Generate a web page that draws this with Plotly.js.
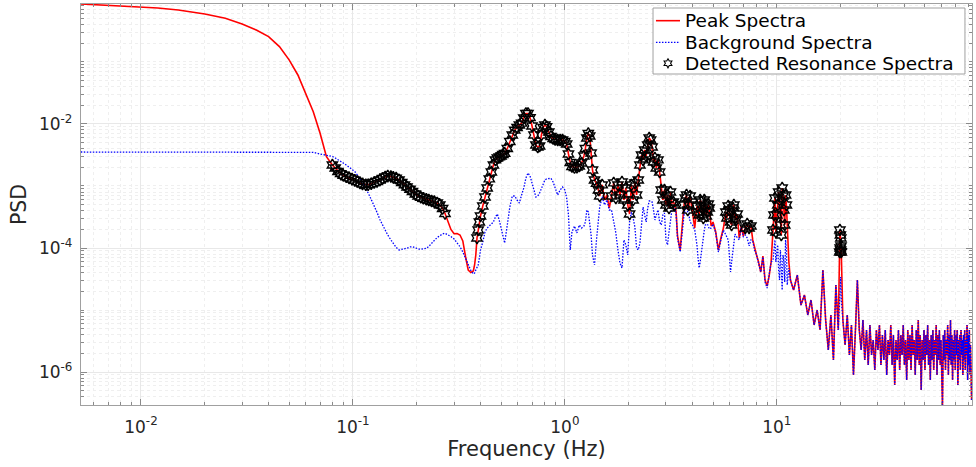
<!DOCTYPE html>
<html><head><meta charset="utf-8">
<script src="https://cdn.plot.ly/plotly-3.0.1.min.js"></script>
<style>
html,body{margin:0;padding:0;background:#fff;overflow:hidden;}
#chart{width:976px;height:467px;}
</style></head><body><div id="chart"></div>
<script>
// ---- data (Hz, PSD) ----
const freqA = [0.0052,0.006,0.007,0.008,0.010,0.012,0.015,0.018,0.020,0.025,0.030,0.035,0.040,0.045,0.050,0.055,0.060,0.065,0.070,0.075];
const peakA = [8.62e-1,8.40e-1,8.31e-1,8.10e-1,7.80e-1,7.43e-1,6.90e-1,6.33e-1,5.94e-1,5.06e-1,4.10e-1,3.28e-1,2.56e-1,1.77e-1,1.08e-1,6.17e-2,3.13e-2,1.58e-2,7.08e-3,2.96e-3];
const bgA   = [3.53e-3,3.53e-3,3.53e-3,3.53e-3,3.53e-3,3.53e-3,3.53e-3,3.53e-3,3.53e-3,3.53e-3,3.53e-3,3.53e-3,3.53e-3,3.53e-3,3.53e-3,3.53e-3,3.53e-3,3.49e-3,3.28e-3,3.10e-3];

const freqB = [0.080,0.0825,0.085,0.0875,0.090,0.093,0.096,0.099,0.102,0.105,0.108,0.111,0.115,0.118,0.122,0.126,0.130,0.134,0.138,0.142,0.146,0.151,0.155,0.160,0.165,0.170,0.175,0.180,0.186,0.191,0.197,0.203,0.209,0.215,0.222,0.228,0.235,0.242,0.250,0.257,0.265,0.272,
  0.280,0.290,0.300,0.310,0.320,0.330,0.340,0.350,0.360,0.370,0.375,0.380];
const peakB = [2.18e-3,1.95e-3,1.71e-3,1.58e-3,1.49e-3,1.41e-3,1.35e-3,1.29e-3,1.24e-3,1.18e-3,1.12e-3,1.08e-3,1.05e-3,1.05e-3,1.09e-3,1.14e-3,1.18e-3,1.25e-3,1.32e-3,1.40e-3,1.45e-3,1.42e-3,1.38e-3,1.34e-3,1.25e-3,1.14e-3,1.04e-3,9.64e-4,8.85e-4,8.15e-4,7.43e-4,6.90e-4,6.57e-4,6.33e-4,6.12e-4,5.94e-4,5.73e-4,5.60e-4,5.32e-4,4.94e-4,4.34e-4,3.60e-4,
  2.83e-4,1.99e-4,1.70e-4,1.71e-4,1.62e-4,1.30e-4,7.23e-5,4.42e-5,4.02e-5,4.26e-5,5.32e-5,7.71e-5];
const bgB   = [2.99e-3,2.83e-3,2.68e-3,2.53e-3,2.35e-3,2.18e-3,2.03e-3,1.85e-3,1.71e-3,1.53e-3,1.32e-3,1.12e-3,9.12e-4,7.71e-4,6.06e-4,4.85e-4,3.74e-4,2.88e-4,2.35e-4,1.92e-4,1.62e-4,1.35e-4,1.19e-4,1.02e-4,9.29e-5,9.46e-5,9.76e-5,9.93e-5,1.04e-4,1.05e-4,1.01e-4,9.64e-5,9.53e-5,9.64e-5,9.89e-5,1.06e-4,1.20e-4,1.32e-4,1.48e-4,1.59e-4,1.69e-4,1.73e-4,
  1.65e-4,1.53e-4,1.40e-4,1.20e-4,1.05e-4,8.62e-5,6.90e-5,5.32e-5,4.34e-5,3.81e-5,3.95e-5,4.42e-5];

const freqC = [0.385,0.390,0.395,0.400,0.410,0.420,0.430,0.440,0.450,0.460,0.470,0.480,0.490,0.500,0.510,0.520,0.535,0.550,0.565,0.580,0.595,0.610,0.625,0.640,0.655,0.670,0.685,0.700,0.715,0.730,0.745,0.760,0.775,0.790,0.805,0.820,0.840,0.860,0.880,0.900,0.925,0.950,0.975,1.000,1.020,1.040,1.060,1.080,1.110,1.140,1.170,1.200,1.230,1.250,1.270,1.290,1.310,1.330,1.350,1.380,1.410,1.440];
const peakC = [1.45e-4,1.95e-4,2.63e-4,3.28e-4,4.76e-4,6.64e-4,9.29e-4,1.30e-3,1.68e-3,2.18e-3,2.63e-3,2.83e-3,2.94e-3,3.05e-3,3.22e-3,3.36e-3,4.03e-3,5.22e-3,6.64e-3,7.94e-3,8.78e-3,9.64e-3,1.03e-2,1.25e-2,1.48e-2,1.48e-2,1.27e-2,9.29e-3,6.64e-3,4.58e-3,4.26e-3,4.42e-3,6.64e-3,8.78e-3,9.64e-3,9.05e-3,7.43e-3,6.28e-3,5.83e-3,5.62e-3,5.52e-3,5.52e-3,5.52e-3,5.22e-3,4.76e-3,3.28e-3,2.39e-3,2.06e-3,1.99e-3,2.01e-3,2.10e-3,2.35e-3,3.05e-3,4.03e-3,5.94e-3,7.03e-3,6.40e-3,3.41e-3,1.81e-3,1.25e-3,1.10e-3,8.62e-4];
const bgC   = [4.76e-5,5.32e-5,6.90e-5,9.29e-5,1.25e-4,1.81e-4,2.10e-4,2.26e-4,2.44e-4,2.63e-4,3.16e-4,3.53e-4,2.83e-4,2.10e-4,1.68e-4,1.20e-4,2.35e-4,4.58e-4,6.90e-4,6.90e-4,5.94e-4,5.32e-4,7.16e-4,9.29e-4,1.35e-3,1.62e-3,1.45e-3,1.16e-3,8.62e-4,6.64e-4,6.90e-4,7.71e-4,9.29e-4,1.12e-3,1.25e-3,1.30e-3,1.32e-3,1.33e-3,1.16e-3,9.64e-4,7.16e-4,8.62e-4,9.64e-4,8.62e-4,6.40e-4,3.41e-4,9.29e-5,1.81e-4,2.26e-4,1.75e-4,2.35e-4,2.10e-4,2.26e-4,2.63e-4,4.10e-4,3.81e-4,2.63e-4,1.62e-4,7.71e-5,5.32e-5,1.35e-4,2.63e-4];

const freqD = [1.46,1.50,1.54,1.58,1.62,1.66,1.70,1.74,1.78,1.82,1.86,1.90,1.94,1.98,2.02,2.06,2.10,2.14,2.18,2.22,2.26,
  2.30,2.34,2.38,2.42,2.46,2.50,2.54,2.58,2.62,2.66,2.70,2.75,2.80,2.85,2.90,2.95,3.00,3.05,3.10,3.15,3.20,3.25,3.30,3.35,3.40];
const peakD = [6.90e-4,1.04e-3,5.94e-4,7.16e-4,4.42e-4,6.90e-4,1.12e-3,6.40e-4,1.04e-3,7.16e-4,1.16e-3,5.94e-4,9.29e-4,4.94e-4,3.53e-4,1.04e-3,5.94e-4,1.12e-3,7.16e-4,1.25e-3,2.18e-3,
  3.16e-3,2.63e-3,3.81e-3,3.05e-3,4.58e-3,5.94e-3,5.52e-3,4.26e-3,2.44e-3,2.83e-3,1.95e-3,2.63e-3,1.68e-3,8.62e-4,5.94e-4,8.62e-4,4.94e-4,7.16e-4,4.42e-4,8.00e-4,5.32e-4,5.52e-4,4.94e-4,3.81e-4,1.56e-4];
const bgD   = [4.58e-4,6.64e-4,4.94e-4,5.94e-4,4.10e-4,4.10e-4,2.63e-4,1.75e-4,9.29e-5,5.73e-5,4.76e-5,1.35e-4,1.12e-4,7.71e-5,2.63e-4,3.81e-4,3.05e-4,2.18e-4,1.00e-4,9.29e-5,1.20e-4,
  2.35e-4,4.58e-4,3.41e-4,2.63e-4,4.42e-4,5.73e-4,5.73e-4,5.52e-4,4.10e-4,2.83e-4,3.41e-4,4.10e-4,2.63e-4,2.35e-4,3.41e-4,3.67e-4,1.35e-4,1.12e-4,1.81e-4,3.05e-4,4.10e-4,4.76e-4,4.58e-4,3.41e-4,1.45e-4];

const freqE = [3.5,3.6,3.65,3.7,3.75,3.8,3.85,3.9,4.0,4.1,4.2,4.25,4.3,4.35,4.4,4.45,4.5,4.55,4.6,4.65,4.7,4.75,4.8,4.9,5.0,5.15,5.3,5.45,5.6,5.75,5.82,5.9,5.97,6.05,6.12,6.2,6.27,6.35,6.42,6.5,6.65,6.8,6.95,7.1,7.25,7.4,7.55,7.7,7.85,8.0,8.2,8.4,8.6,8.8,9.0,9.2,9.4,
  9.6,9.7,9.8,9.9,10.0,10.1,10.2,10.3,10.4,10.5,10.6,10.7,10.8,10.9,11.0,11.1,11.2,11.4,11.6];
const peakE = [9.29e-5,3.05e-4,4.94e-4,6.40e-4,7.16e-4,4.10e-4,4.94e-4,6.90e-4,3.41e-4,2.10e-4,4.76e-4,3.81e-4,3.41e-4,5.94e-4,5.52e-4,3.53e-4,3.05e-4,5.94e-4,4.94e-4,3.28e-4,3.81e-4,5.12e-4,4.42e-4,2.26e-4,2.63e-4,1.81e-4,9.29e-5,1.45e-4,2.10e-4,3.81e-4,3.05e-4,4.76e-4,4.10e-4,2.63e-4,2.35e-4,4.42e-4,4.94e-4,3.05e-4,2.83e-4,3.53e-4,1.45e-4,2.26e-4,1.56e-4,2.10e-4,2.44e-4,2.10e-4,2.26e-4,1.35e-4,1.00e-4,8.00e-5,5.94e-5,4.10e-5,7.43e-5,3.05e-5,2.44e-5,3.53e-5,5.94e-5,
  1.95e-4,3.41e-4,6.40e-4,1.81e-4,3.41e-4,4.94e-4,8.00e-4,5.94e-4,2.35e-4,1.62e-4,9.29e-4,6.90e-4,4.10e-4,2.35e-4,7.16e-4,4.94e-4,1.81e-4,5.94e-5,3.05e-5];
const bgE   = [8.62e-5,2.63e-4,3.41e-4,4.42e-4,4.76e-4,3.81e-4,3.41e-4,2.63e-4,2.35e-4,1.95e-4,1.12e-4,6.90e-5,4.76e-5,5.94e-5,8.62e-5,1.12e-4,1.45e-4,1.95e-4,2.35e-4,2.44e-4,2.44e-4,2.26e-4,2.03e-4,2.10e-4,2.44e-4,1.75e-4,8.62e-5,1.35e-4,1.95e-4,1.62e-4,1.45e-4,1.35e-4,7.71e-5,4.10e-5,5.94e-5,9.29e-5,1.35e-4,1.68e-4,1.56e-4,1.50e-4,1.35e-4,2.18e-4,1.50e-4,1.62e-4,1.45e-4,1.08e-4,1.35e-4,1.30e-4,9.29e-5,8.00e-5,5.94e-5,4.10e-5,7.16e-5,2.83e-5,2.26e-5,3.41e-5,5.94e-5,
  6.40e-5,9.29e-5,1.35e-4,5.94e-5,7.71e-5,1.12e-4,4.42e-5,3.05e-5,9.29e-5,5.32e-5,2.10e-5,7.71e-5,5.94e-5,2.83e-5,1.35e-4,9.29e-5,2.53e-5,4.76e-5,3.05e-5];

const freqF = [12.0,12.5,13.0,13.5,14.0,14.5,15.0,15.5,16.0,16.5,17.0,17.5,18.0,18.5,19.0,19.5,19.8,19.85,19.9,19.95,20.0,20.05,20.1,20.15,20.5,21.0,21.5,22.0,22.5,23.0,23.5,24.0,24.5,25.0,25.5,26.0,26.5,27.0,27.5,28.0,28.5,29.0,29.5];
const peakF = [2.10e-5,3.67e-5,1.20e-5,1.75e-5,8.31e-6,1.45e-5,5.73e-6,1.00e-5,4.76e-6,4.42e-5,6.90e-6,2.26e-6,8.31e-6,1.56e-6,2.53e-5,4.76e-6,8.62e-5,1.95e-4,1.00e-4,1.62e-4,9.29e-5,1.45e-4,1.08e-4,8.62e-5,6.90e-6,2.73e-6,8.31e-6,1.88e-6,5.73e-6,8.95e-7,4.76e-6,3.05e-5,4.76e-6,2.26e-6,6.90e-6,1.56e-6,4.76e-6,1.30e-6,5.73e-6,1.88e-6,3.28e-6,1.08e-6,4.76e-6];
const bgF   = [2.10e-5,3.67e-5,1.20e-5,1.75e-5,8.31e-6,1.45e-5,5.73e-6,1.00e-5,4.76e-6,4.42e-5,6.90e-6,2.26e-6,8.31e-6,1.56e-6,2.53e-5,4.76e-6,1.45e-5,2.10e-5,3.05e-5,3.28e-5,3.41e-5,3.05e-5,2.10e-5,1.45e-5,6.90e-6,2.73e-6,8.31e-6,1.88e-6,5.73e-6,8.95e-7,4.76e-6,3.05e-5,4.76e-6,2.26e-6,6.90e-6,1.56e-6,4.76e-6,1.30e-6,5.73e-6,1.88e-6,3.28e-6,1.08e-6,4.76e-6];

const freqG = [30.0,30.5,31.0,31.5,32.0,32.5,33.0,33.5,34.0,34.5,35.0,35.5,36.0,36.5,37.0,37.5,38.0,38.5,39.0,39.5,40.0,40.5,41.0,41.5,42.0,42.5,43.0,43.5,44.0,44.5,45.0,45.5,46.0,46.5,47.0,47.5,48.0,48.5,49.0,49.5,50.0,50.5,51.0,51.5,52.0,52.5,53.0,53.5,54.0,54.5,55.0,55.5,56.0,56.5,57.0,57.5,58.0,58.5,59.0,59.5,60.0,60.5,61.0,61.5,62.0,62.5,63.0,63.5,64.0,64.5,65.0,65.5,66.0,66.5,67.0,67.5,68.0,68.5,69.0,69.5,70.0,70.5,71.0,71.5,72.0,72.5,73.0,73.5,74.0,74.5,75.0,75.5,76.0,76.5,77.0,77.5,78.0,78.5,79.0,79.5,80.0,80.5,81.0,81.5,82.0,82.5,83.0];
const peakG = [2.26e-6,5.73e-6,1.30e-6,3.95e-6,1.56e-6,4.76e-6,8.95e-7,3.28e-6,1.88e-6,5.73e-6,1.30e-6,3.95e-6,6.17e-7,3.28e-6,1.56e-6,4.76e-6,1.08e-6,3.95e-6,1.88e-6,5.73e-6,1.30e-6,3.28e-6,7.43e-7,4.76e-6,1.56e-6,3.95e-6,1.08e-6,5.73e-6,1.88e-6,3.28e-6,8.95e-7,4.76e-6,1.56e-6,6.90e-6,1.30e-6,3.95e-6,5.12e-7,3.28e-6,1.56e-6,4.76e-6,1.08e-6,3.95e-6,1.88e-6,5.73e-6,1.30e-6,3.28e-6,7.43e-7,3.95e-6,1.56e-6,4.76e-6,1.08e-6,3.28e-6,1.88e-6,5.73e-6,8.95e-7,3.95e-6,1.56e-6,4.76e-6,1.30e-6,3.28e-6,1.08e-6,2.94e-7,3.95e-6,1.56e-6,4.76e-6,1.08e-6,3.28e-6,1.88e-6,5.73e-6,8.95e-7,3.95e-6,1.56e-6,6.90e-6,1.30e-6,3.95e-6,7.43e-7,3.28e-6,1.56e-6,4.76e-6,1.08e-6,3.95e-6,1.88e-6,4.76e-6,6.17e-7,3.28e-6,1.56e-6,3.95e-6,1.08e-6,4.76e-6,1.88e-6,3.28e-6,8.95e-7,3.95e-6,1.56e-6,4.76e-6,1.08e-6,3.28e-6,1.88e-6,5.73e-6,7.43e-7,3.95e-6,1.30e-6,4.76e-6,8.95e-7,2.73e-6,4.26e-7,3.53e-7];
const bgG   = [2.26e-6,5.73e-6,1.30e-6,3.95e-6,1.56e-6,4.76e-6,8.95e-7,3.28e-6,1.88e-6,5.73e-6,1.30e-6,3.95e-6,6.17e-7,3.28e-6,1.56e-6,4.76e-6,1.08e-6,3.95e-6,1.88e-6,5.73e-6,1.30e-6,3.28e-6,7.43e-7,4.76e-6,1.56e-6,3.95e-6,1.08e-6,5.73e-6,1.88e-6,3.28e-6,8.95e-7,4.76e-6,1.56e-6,6.90e-6,1.30e-6,3.95e-6,5.12e-7,3.28e-6,1.56e-6,4.76e-6,1.08e-6,3.95e-6,1.88e-6,5.73e-6,1.30e-6,3.28e-6,7.43e-7,3.95e-6,1.56e-6,4.76e-6,1.08e-6,3.28e-6,1.88e-6,5.73e-6,8.95e-7,3.95e-6,1.56e-6,4.76e-6,1.30e-6,3.28e-6,1.08e-6,2.94e-7,3.95e-6,1.56e-6,4.76e-6,1.08e-6,3.28e-6,1.88e-6,5.73e-6,8.95e-7,3.95e-6,1.56e-6,6.90e-6,1.30e-6,3.95e-6,7.43e-7,3.28e-6,1.56e-6,4.76e-6,1.08e-6,3.95e-6,1.88e-6,4.76e-6,6.17e-7,3.28e-6,1.56e-6,3.95e-6,1.08e-6,4.76e-6,1.88e-6,3.28e-6,8.95e-7,3.95e-6,1.56e-6,4.76e-6,1.08e-6,3.28e-6,1.88e-6,5.73e-6,7.43e-7,3.95e-6,1.30e-6,4.76e-6,8.95e-7,2.73e-6,4.26e-7,3.53e-7];

// frequency bands (Hz) flagged as detected resonance
const detectedBands = [[0.079,0.273],[0.384,1.51],[1.65,3.31],[3.64,3.91],[4.19,4.81],[5.74,6.51],[7.09,7.56],[9.59,11.15],[19.79,20.16]];

const seriesNames = ['Peak Spectra','Background Spectra','Detected Resonance Spectra'];
const xTickVals = [0.01,0.1,1,10];
const xTickText = ['10<sup>-2</sup>','10<sup>-1</sup>','10<sup>0</sup>','10<sup>1</sup>'];
const yTickVals = [1e-6,1e-4,1e-2];
const yTickText = ['10<sup>-6</sup>','10<sup>-4</sup>','10<sup>-2</sup>'];

// ---- assemble ----
const freq = [].concat(freqA,freqB,freqC,freqD,freqE,freqF,freqG);
const peakPsd = [].concat(peakA,peakB,peakC,peakD,peakE,peakF,peakG);
const bgPsd = [].concat(bgA,bgB,bgC,bgD,bgE,bgF,bgG);
const detF = [], detP = [];
freq.forEach((f,i)=>{ if(detectedBands.some(b=>f>=b[0]&&f<=b[1])){ detF.push(f); detP.push(peakPsd[i]); } });

function minorVals(lo,hi,skip){
  const out=[];
  for(let k=lo;k<=hi;k++){ for(let m=1;m<=9;m++){ const v=m*Math.pow(10,k); if(!(m===1 && skip.indexOf(k)>=0)) out.push(+v.toPrecision(3)); } }
  return out;
}
const xMinor = minorVals(-3,1,[-2,-1,0,1]);
const yMinor = minorVals(-7,0,[-6,-4,-2]);

const FONT = '"DejaVu Sans", Arial, sans-serif';
const RED = '#ff0000', BLUE = '#0000ff';
const axisCommon = {
  type:'log', tickmode:'array', ticks:'inside', ticklen:6, tickwidth:1, tickcolor:'#8a8a8a',
  showline:true, linecolor:'#a0a0a0', linewidth:1.2, mirror:'ticks',
  showgrid:true, gridcolor:'#e8e8e8', gridwidth:1, zeroline:false,
  tickfont:{family:FONT,size:17,color:'#262626'}, automargin:false
};
const minorCommon = {ticks:'inside', ticklen:3, tickwidth:1, tickcolor:'#8a8a8a', showgrid:true, gridcolor:'#efefef', griddash:'dot', gridwidth:1};

const traces = [
  {x:freq, y:peakPsd, type:'scatter', mode:'lines', name:seriesNames[0], line:{color:RED, width:1.6}},
  {x:freq, y:bgPsd, type:'scatter', mode:'lines', name:seriesNames[1], line:{color:BLUE, width:1.3, dash:'1.5px,1.5px'}},
  {x:detF, y:detP, type:'scatter', mode:'markers', name:seriesNames[2],
   marker:{symbol:'hexagram-open', size:9, color:'#000', line:{width:1.4,color:'#000'}}}
];

// legend box drawn in paper coordinates (plot area = paper)
const LG = {x0:0.642, x1:0.9921, y0:0.8254, y1:0.990, sx0:0.6453, sx1:0.6723, tx:0.6756, rows:[0.9584,0.9045,0.8521]};
const hexPath = 'M0,4.5 L1.3,2.25 L3.9,2.25 L2.6,0 L3.9,-2.25 L1.3,-2.25 L0,-4.5 L-1.3,-2.25 L-3.9,-2.25 L-2.6,0 L-3.9,2.25 L-1.3,2.25 Z';
const shapes = [
  {type:'rect', xref:'paper', yref:'paper', x0:LG.x0, x1:LG.x1, y0:LG.y0, y1:LG.y1, fillcolor:'#ffffff', line:{color:'#a0a0a0', width:1}, layer:'above'},
  {type:'line', xref:'paper', yref:'paper', x0:LG.sx0, x1:LG.sx1, y0:LG.rows[0], y1:LG.rows[0], line:{color:RED, width:1.6}, layer:'above'},
  {type:'line', xref:'paper', yref:'paper', x0:LG.sx0, x1:LG.sx1, y0:LG.rows[1], y1:LG.rows[1], line:{color:BLUE, width:1.3, dash:'1.5px,1.5px'}, layer:'above'},
  {type:'path', xref:'paper', yref:'paper', xsizemode:'pixel', ysizemode:'pixel', xanchor:(LG.sx0+LG.sx1)/2, yanchor:LG.rows[2], path:hexPath, line:{color:'#000', width:1.1}, fillcolor:'rgba(0,0,0,0)', layer:'above'}
];
const annotations = seriesNames.map((t,i)=>({xref:'paper', yref:'paper', x:LG.tx, y:LG.rows[i], xanchor:'left', yanchor:'middle', showarrow:false, text:t, font:{family:FONT, size:18.5, color:'#000'}}));

const layout = {
  width:976, height:467,
  margin:{l:81, r:4, t:4, b:62},
  paper_bgcolor:'#ffffff', plot_bgcolor:'#ffffff',
  showlegend:false,
  shapes:shapes, annotations:annotations,
  xaxis:Object.assign({}, axisCommon, {range:[-2.283,1.921], tickvals:xTickVals, ticktext:xTickText, ticklabelstandoff:6,
    title:{text:'Frequency (Hz)', font:{family:FONT,size:21,color:'#262626'}, standoff:4},
    minor:Object.assign({tickvals:xMinor}, minorCommon)}),
  yaxis:Object.assign({}, axisCommon, {range:[-6.532,-0.065], tickvals:yTickVals, ticktext:yTickText, ticklabelstandoff:4,
    title:{text:'PSD', font:{family:FONT,size:20.5,color:'#262626'}, standoff:6},
    minor:Object.assign({tickvals:yMinor}, minorCommon)})
};

Plotly.newPlot('chart', traces, layout, {staticPlot:true, displayModeBar:false});
</script></body></html>
